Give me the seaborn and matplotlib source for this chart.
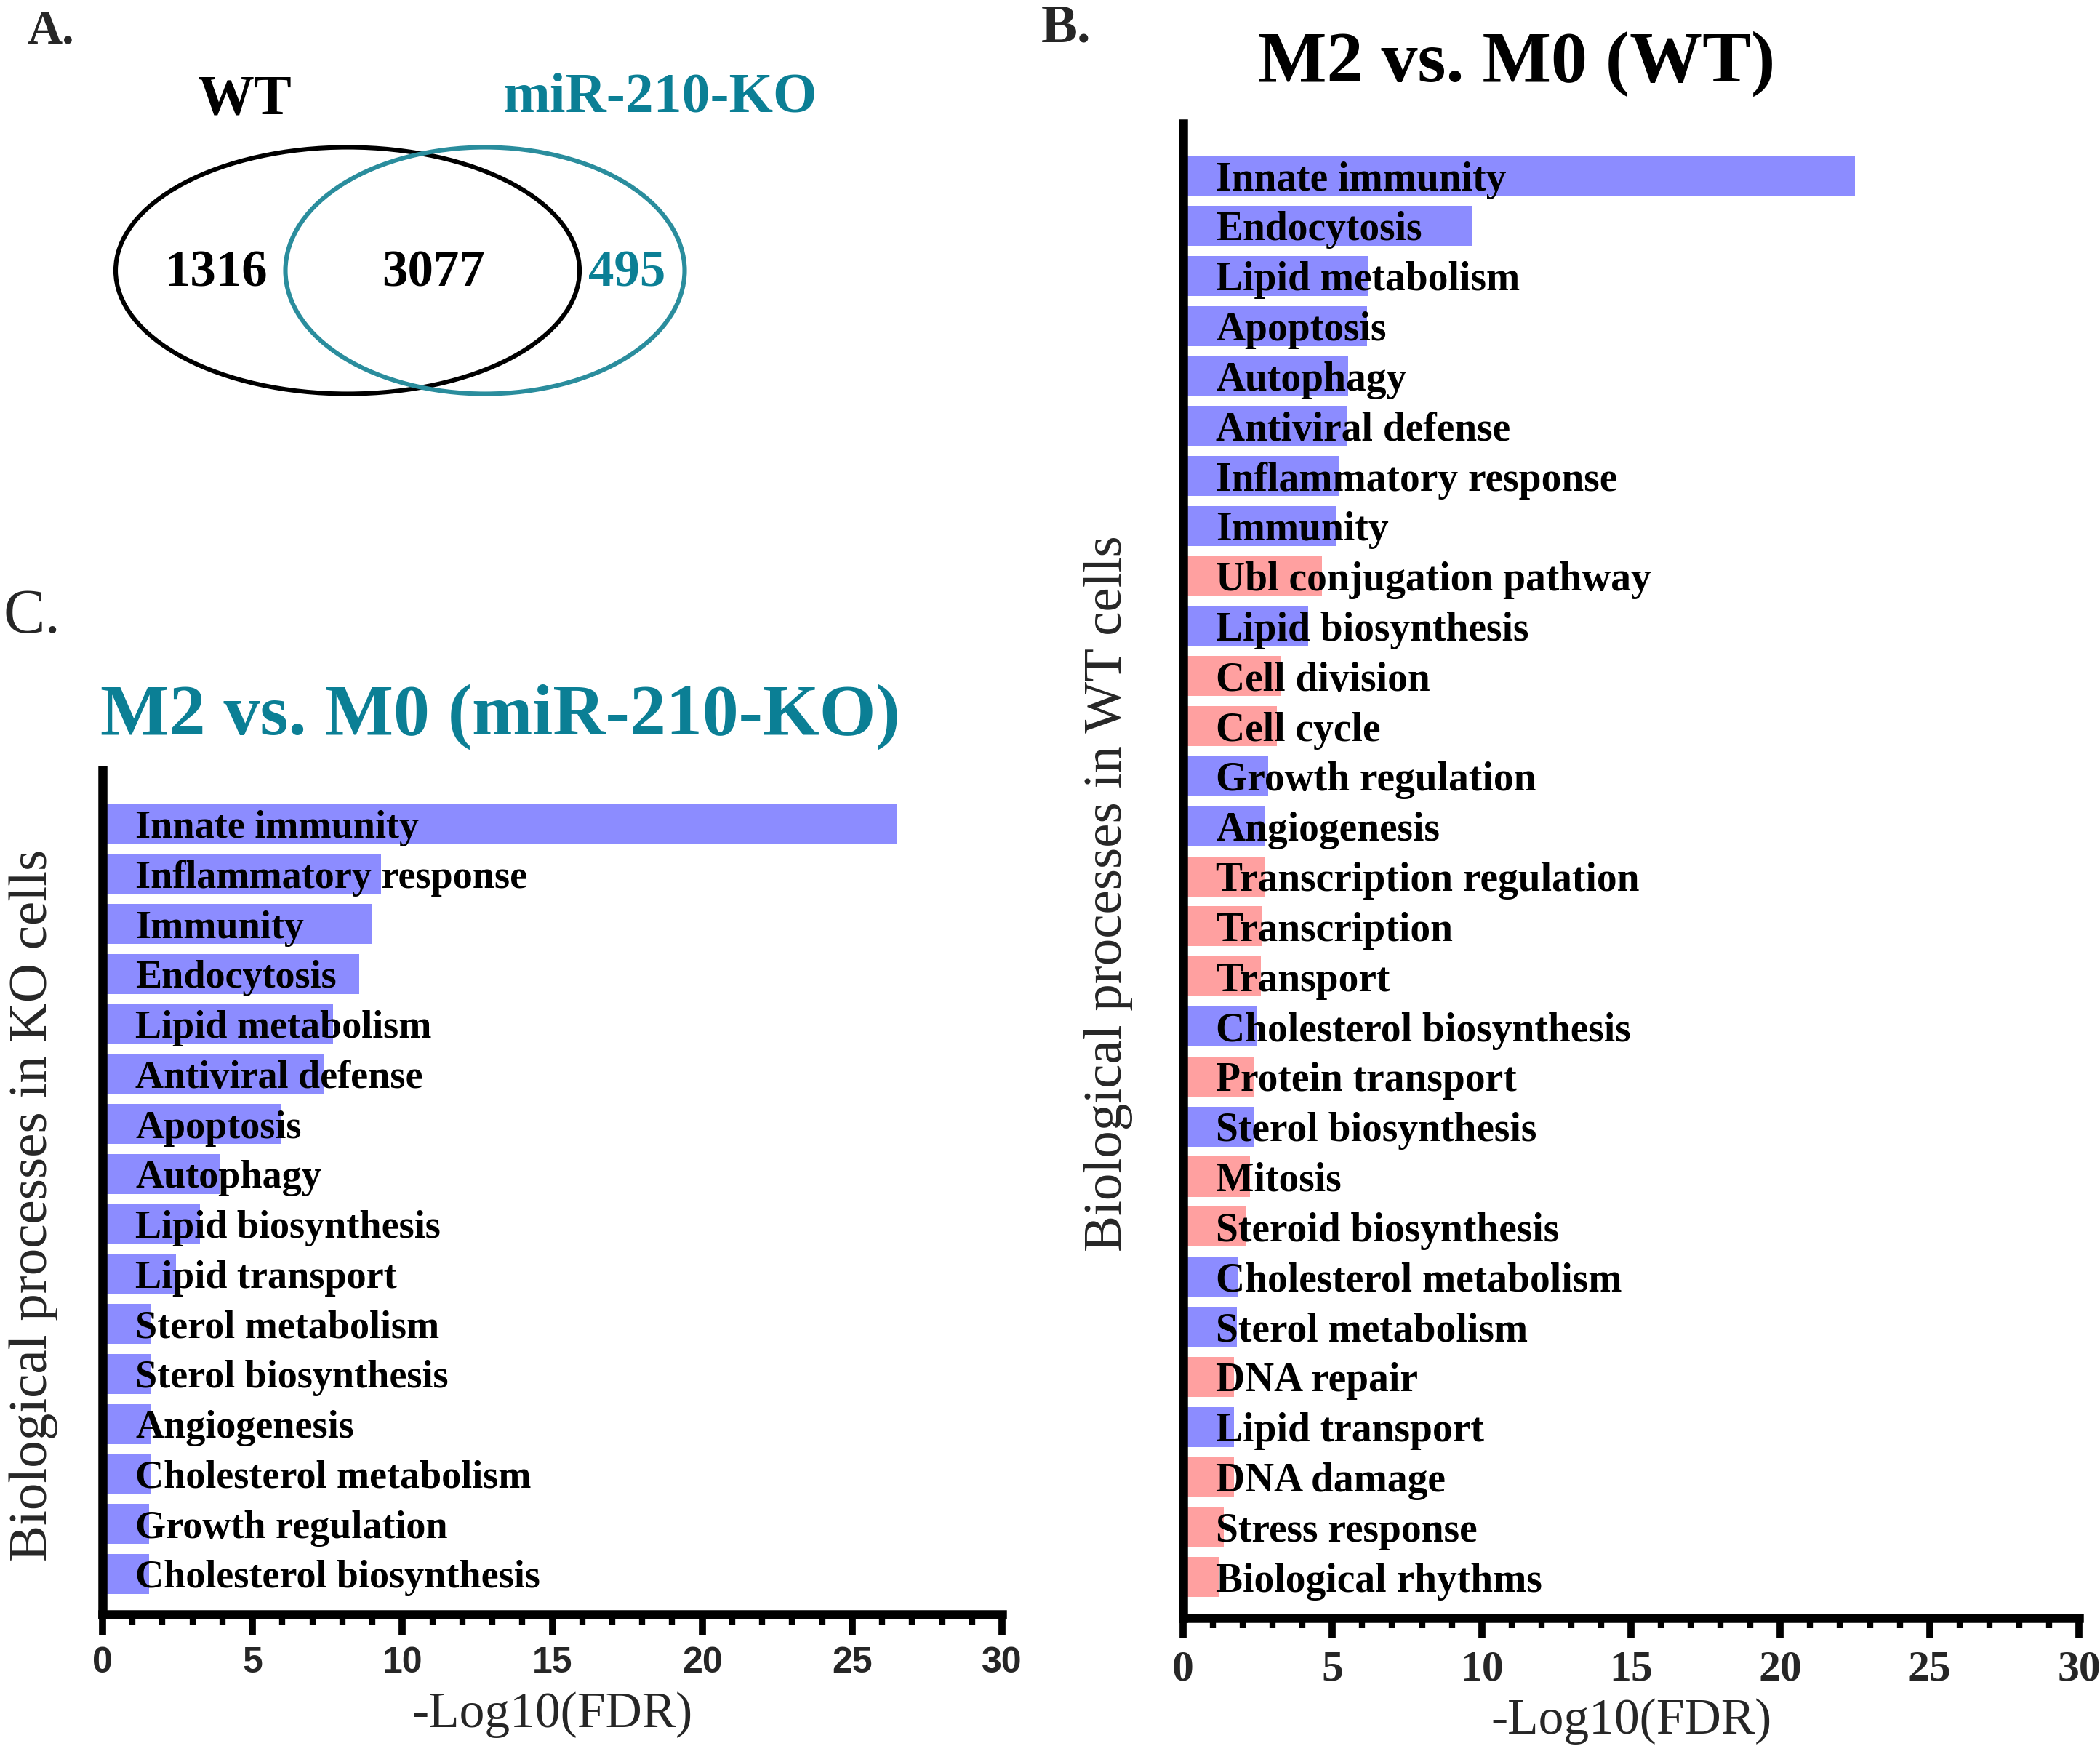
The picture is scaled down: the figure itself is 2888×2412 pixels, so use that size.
import matplotlib
matplotlib.use("Agg")
import matplotlib.pyplot as plt
from matplotlib.patches import Ellipse
from matplotlib.ticker import MultipleLocator
import seaborn as sns
import pandas as pd

# ---------------- data ----------------
venn_labels = ["WT", "miR-210-KO"]
venn_counts = [1316, 3077, 495]   # WT only, shared, KO only

wt_processes = ["Innate immunity", "Endocytosis", "Lipid metabolism", "Apoptosis",
                "Autophagy", "Antiviral defense", "Inflammatory response", "Immunity",
                "Ubl conjugation pathway", "Lipid biosynthesis", "Cell division",
                "Cell cycle", "Growth regulation", "Angiogenesis",
                "Transcription regulation", "Transcription", "Transport",
                "Cholesterol biosynthesis", "Protein transport", "Sterol biosynthesis",
                "Mitosis", "Steroid biosynthesis", "Cholesterol metabolism",
                "Sterol metabolism", "DNA repair", "Lipid transport", "DNA damage",
                "Stress response", "Biological rhythms"]
wt_values = [22.5, 9.68, 6.18, 6.15, 5.52, 5.48, 5.22, 5.13, 4.66, 4.18, 3.27, 3.13,
             2.85, 2.75, 2.73, 2.65, 2.6, 2.48, 2.37, 2.36, 2.23, 2.13, 1.83, 1.81,
             1.71, 1.71, 1.71, 1.37, 1.2]
wt_groups = ["blue", "blue", "blue", "blue", "blue", "blue", "blue", "blue", "red",
             "blue", "red", "red", "blue", "blue", "red", "red", "red", "blue", "red",
             "blue", "red", "red", "blue", "blue", "red", "blue", "red", "red", "red"]

ko_processes = ["Innate immunity", "Inflammatory response", "Immunity", "Endocytosis",
                "Lipid metabolism", "Antiviral defense", "Apoptosis", "Autophagy",
                "Lipid biosynthesis", "Lipid transport", "Sterol metabolism",
                "Sterol biosynthesis", "Angiogenesis", "Cholesterol metabolism",
                "Growth regulation", "Cholesterol biosynthesis"]
ko_values = [26.5, 9.3, 9.0, 8.55, 7.7, 7.4, 5.93, 3.94, 3.25, 2.45, 1.6, 1.6, 1.6,
             1.6, 1.55, 1.55]
ko_groups = ["blue"] * len(ko_processes)

x_ticks = [0, 5, 10, 15, 20, 25, 30]
x_label = "-Log10(FDR)"
wt_title = "M2 vs. M0 (WT)"
ko_title = "M2 vs. M0 (miR-210-KO)"
wt_ylabel = "Biological processes in WT cells"
ko_ylabel = "Biological processes in KO cells"

# ---------------- style ----------------
BLUE = "#8c8cff"
RED = "#ffa0a0"
TEAL = "#0b7f95"
TEAL_LINE = "#2a8d9d"
palette = {"blue": BLUE, "red": RED}

sns.set_style("white")
plt.rcParams["font.family"] = ["Liberation Serif", "DejaVu Serif"]

W, H = 2888, 2412
DPI = 200
fig = plt.figure(figsize=(W / DPI, H / DPI), dpi=DPI)


def px_axes(left, top, right, bottom):
    return fig.add_axes([left / W, 1 - bottom / H, (right - left) / W, (bottom - top) / H])


def bar_panel(ax, processes, values, groups, top_pad, bot_pad, tick_font, tick_size,
              label_size, ylabel, ylabel_x, xlabel_y):
    df = pd.DataFrame({"process": processes, "value": values, "group": groups})
    sns.barplot(data=df, x="value", y="process", hue="group", palette=palette,
                dodge=False, width=0.8, saturation=1, legend=False, orient="h",
                edgecolor="none", linewidth=0, ax=ax)
    n = len(processes)
    ax.set_xlim(0, 30)
    ax.set_ylim(n - 1 + bot_pad, -top_pad)
    for i, name in enumerate(processes):
        ax.text(1.1, i, name, va="center_baseline", ha="left", fontsize=label_size,
                fontweight="bold", color="black", zorder=5)
    ax.set_yticks([])
    ax.set_ylabel("")
    ax.set_xticks(x_ticks)
    ax.xaxis.set_minor_locator(MultipleLocator(1))
    ax.set_xticklabels([str(t) for t in x_ticks], fontfamily=tick_font,
                       fontweight="bold", fontsize=tick_size)
    ax.tick_params(axis="x", which="major", direction="out", length=10, width=3.5,
                   color="black", pad=6, bottom=True)
    ax.tick_params(axis="x", which="minor", direction="out", length=5, width=3,
                   color="black", bottom=True)
    for s in ["top", "right"]:
        ax.spines[s].set_visible(False)
    for s in ["left", "bottom"]:
        ax.spines[s].set_linewidth(4.5)
        ax.spines[s].set_color("black")
    ax.set_xlabel(x_label, fontsize=25, va="center")
    ax.xaxis.set_label_coords(0.5, xlabel_y)
    ax.text(ylabel_x, 0.485, ylabel, transform=ax.transAxes, rotation=90,
            ha="center", va="center", fontsize=27)
    ax.set_facecolor("none")


# panel B
axB = px_axes(1627, 170, 2859, 2225)
bar_panel(axB, wt_processes, wt_values, wt_groups, 1.04, 0.82,
          ["Liberation Serif"], 21.5, 20, wt_ylabel, -0.083, -0.069)

# panel C
axC = px_axes(141, 1059, 1378, 2220)
bar_panel(axC, ko_processes, ko_values, ko_groups, 1.08, 0.81,
          ["Liberation Sans"], 18, 19.5, ko_ylabel, -0.077, -0.119)

# overlay (panel A, titles, panel letters) in pixel coordinates
ov = fig.add_axes([0, 0, 1, 1])
ov.set_xlim(0, W)
ov.set_ylim(H, 0)
ov.axis("off")
ov.set_zorder(-1)

ov.add_patch(Ellipse((478, 372), 638, 339, fill=False, edgecolor="black", linewidth=2.2))
ov.add_patch(Ellipse((667, 372), 549, 339, fill=False, edgecolor=TEAL_LINE, linewidth=2.2))
ov.text(337, 157, venn_labels[0], ha="center", va="baseline", fontsize=28,
        fontweight="bold", color="black")
ov.text(908, 153, venn_labels[1], ha="center", va="baseline", fontsize=28,
        fontweight="bold", color=TEAL)
ov.text(297, 393, str(venn_counts[0]), ha="center", va="baseline", fontsize=25.5,
        fontweight="bold", color="black")
ov.text(596, 393, str(venn_counts[1]), ha="center", va="baseline", fontsize=25.5,
        fontweight="bold", color="black")
ov.text(862, 393, str(venn_counts[2]), ha="center", va="baseline", fontsize=25.5,
        fontweight="bold", color=TEAL)

ov.text(37, 59, "A.", ha="left", va="baseline", fontsize=24, fontweight="bold")
ov.text(1432, 58, "B.", ha="left", va="baseline", fontsize=27, fontweight="bold")
ov.text(4, 870, "C.", ha="left", va="baseline", fontsize=31)

ov.text(2086, 112, wt_title, ha="center", va="baseline", fontsize=36,
        fontweight="bold", color="black")
ov.text(688, 1010, ko_title, ha="center", va="baseline", fontsize=36,
        fontweight="bold", color=TEAL)

fig.savefig("out.png", dpi=DPI)
